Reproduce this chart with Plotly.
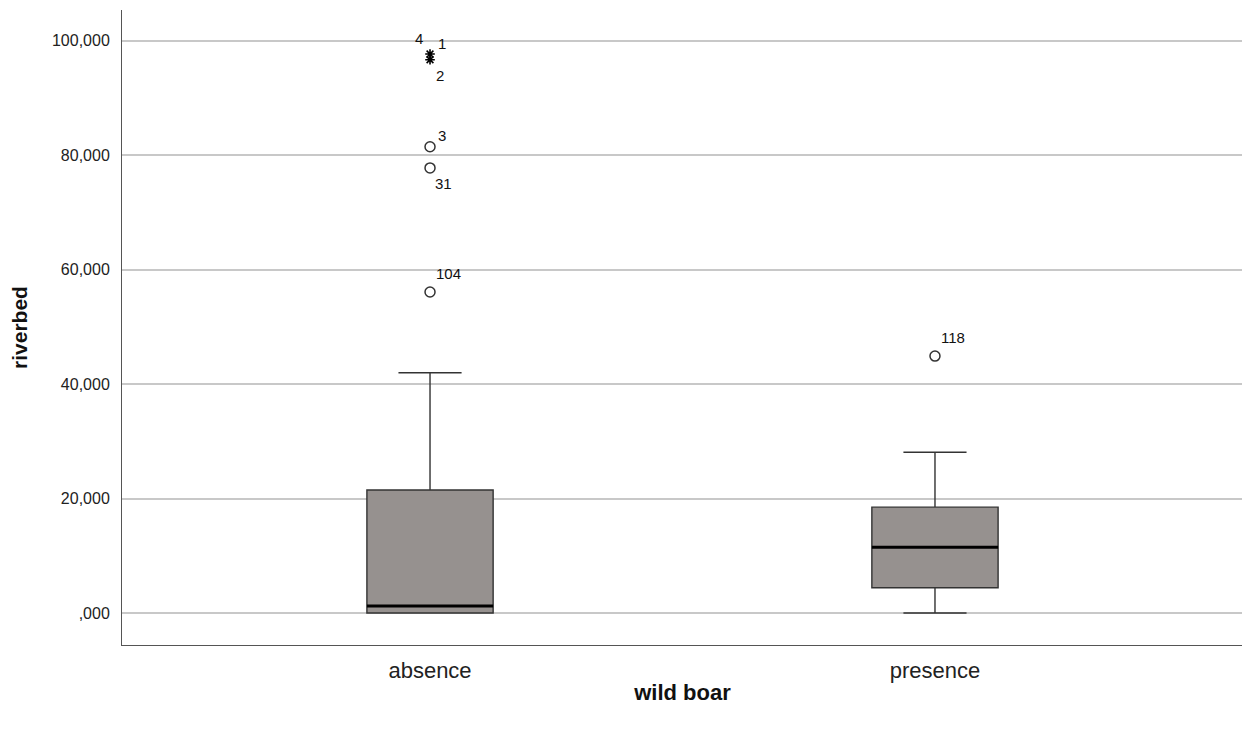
import plotly.graph_objects as go

categories = ["absence", "presence"]
q1 = [0.0, 4.4]
median = [1.2, 11.5]
q3 = [21.5, 18.5]
lowerfence = [0.0, 0.0]
upperfence = [42.0, 28.1]

# outliers: (category index, value, label)
circle_cat = [0, 0, 0, 1]
circle_val = [81.5, 77.8, 56.1, 44.9]
circle_lab = ["3", "31", "104", "118"]
circle_shift = [(12, 11), (13, -16), (18, 19), (18, 19)]

star_cat = [0, 0]
star_val = [97.7, 96.7]
star_labels = [("4", 97.7, -11, 16), ("1", 97.7, 12, 11), ("2", 96.7, 10, -16)]

yticks = [0, 20, 40, 60, 80, 100]
yticktext = [",000", "20,000", "40,000", "60,000", "80,000", "100,000"]

box_width = 0.25
fill = "#96918f"
edge = "#333333"

fig = go.Figure()
for i, c in enumerate(categories):
    fig.add_trace(go.Box(
        x=[i], q1=[q1[i]], median=[median[i]], q3=[q3[i]],
        lowerfence=[lowerfence[i]], upperfence=[upperfence[i]],
        width=box_width, whiskerwidth=0.5, fillcolor=fill,
        line=dict(color=edge, width=1.4), boxpoints=False,
        showlegend=False, hoverinfo="skip"))
    # thick median line
    fig.add_trace(go.Scatter(
        x=[i - box_width / 2, i + box_width / 2], y=[median[i], median[i]],
        mode="lines", line=dict(color="black", width=3),
        showlegend=False, hoverinfo="skip"))

fig.add_trace(go.Scatter(
    x=circle_cat, y=circle_val, mode="markers",
    marker=dict(symbol="circle-open", size=10, color=edge, line=dict(width=1.5)),
    showlegend=False, hoverinfo="skip"))
fig.add_trace(go.Scatter(
    x=star_cat, y=star_val, mode="markers",
    marker=dict(symbol="asterisk-open", size=8, color="black", line=dict(width=1.6, color="black")),
    showlegend=False, hoverinfo="skip"))

font = "Liberation Sans, Arial, sans-serif"
for ci, v, lab, (dx, dy) in zip(circle_cat, circle_val, circle_lab, circle_shift):
    fig.add_annotation(x=ci, y=v, text=lab, showarrow=False, xshift=dx, yshift=dy,
                       font=dict(family=font, size=15, color="#111"))
for lab, v, dx, dy in star_labels:
    fig.add_annotation(x=0, y=v, text=lab, showarrow=False, xshift=dx, yshift=dy,
                       font=dict(family=font, size=15, color="#111"))

fig.update_layout(
    width=1242, height=725,
    margin=dict(l=114, r=7, t=2, b=88),
    plot_bgcolor="white", paper_bgcolor="white",
    font=dict(family=font, color="#111"),
    xaxis=dict(
        range=[-0.61, 1.61], tickvals=[0, 1], ticktext=categories,
        tickfont=dict(size=22, color="#222"), showgrid=False, zeroline=False,
        showline=True, linecolor="#555555", linewidth=1,
        ticks="outside", ticklen=6, tickcolor="rgba(0,0,0,0)",
        title=dict(text="<b>wild boar</b>", font=dict(size=22), standoff=2)),
    yaxis=dict(
        range=[-5.6, 105.4], tickvals=yticks, ticktext=yticktext,
        tickfont=dict(size=16, color="#222"), showgrid=True, gridcolor="#c8c8c8", gridwidth=1.5,
        zeroline=False, showline=True, linecolor="#555555", linewidth=1,
        ticks="outside", ticklen=8, tickcolor="rgba(0,0,0,0)",
        title=dict(text="<b>riverbed</b>", font=dict(size=21), standoff=20)),
)

fig.write_html("out.html")
